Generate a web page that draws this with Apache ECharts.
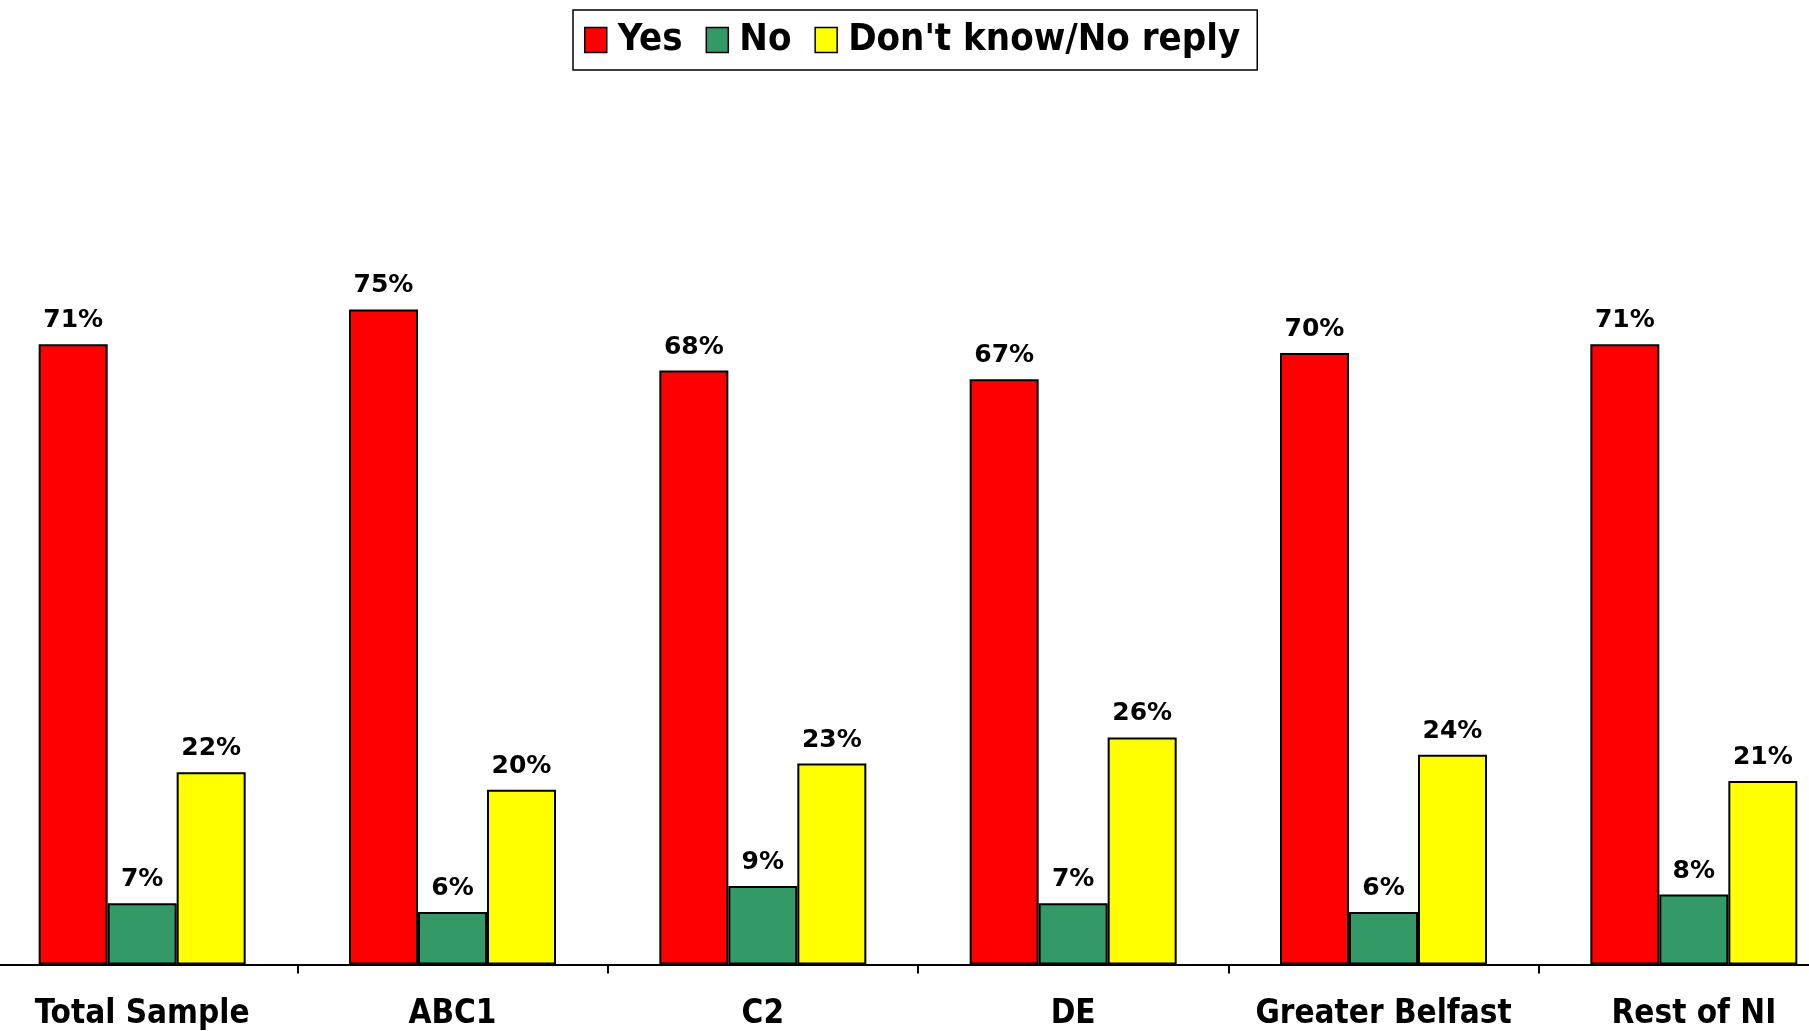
<!DOCTYPE html>
<html>
<head>
<meta charset="utf-8">
<script src="https://cdn.jsdelivr.net/npm/echarts@6/dist/echarts.min.js"></script>
<style>
html,body{margin:0;padding:0;background:#fff;overflow:hidden;width:1809px;height:1031px;position:relative;}
#main{position:absolute;left:-13px;top:0;width:1862px;height:1031px;}
</style>
</head>
<body>
<div id="main"></div>
<script>
const categories = ['Total Sample', 'ABC1', 'C2', 'DE', 'Greater Belfast', 'Rest of NI'];
const seriesNames = ['Yes', 'No', "Don't know/No reply"];
const yesValues = [71, 75, 68, 67, 70, 71];
const noValues = [7, 6, 9, 7, 6, 8];
const dkValues = [22, 20, 23, 26, 24, 21];
const colors = ['#FF0000', '#339966', '#FFFF00'];

const condensed = "'DejaVu Sans Condensed', 'DejaVu Sans', sans-serif";
const wide = "'DejaVu Sans', Verdana, sans-serif";

const chart = echarts.init(document.getElementById('main'));

function mk(name, data, color) {
  return {
    name: name,
    type: 'bar',
    data: data,
    barWidth: 69,
    barGap: '0%',
    itemStyle: { color: color, borderColor: '#000', borderWidth: 2 },
    label: {
      show: true,
      position: 'top',
      distance: 11,
      formatter: '{c}%',
      color: '#000',
      fontFamily: wide,
      fontWeight: 'bold',
      fontSize: 25
    }
  };
}

chart.setOption({
  animation: false,
  backgroundColor: '#fff',
  legend: {
    data: seriesNames,
    icon: 'rect',
    top: 10,
    left: 586,
    orient: 'horizontal',
    borderColor: '#000',
    borderWidth: 1.5,
    padding: [11, 17, 11, 11],
    itemWidth: 22,
    itemHeight: 25,
    itemGap: 23,
    textStyle: { fontFamily: condensed, fontWeight: 'bold', fontSize: 38, color: '#000', padding: [0, 0, 0, 6] },
    itemStyle: { borderColor: '#000', borderWidth: 1.5 }
  },
  grid: { left: 0, right: 0, top: 91, bottom: 66.5, containLabel: false },
  xAxis: {
    type: 'category',
    data: categories,
    axisLine: { lineStyle: { color: '#000', width: 2 } },
    axisTick: { show: true, interval: 0, length: 9, lineStyle: { color: '#000', width: 2 } },
    axisLabel: { interval: 0, fontFamily: condensed, fontWeight: 'bold', fontSize: 33, color: '#000', margin: 33 }
  },
  yAxis: {
    type: 'value',
    min: 0,
    max: 100,
    show: false,
    splitLine: { show: false }
  },
  series: [
    mk(seriesNames[0], yesValues, colors[0]),
    mk(seriesNames[1], noValues, colors[1]),
    mk(seriesNames[2], dkValues, colors[2])
  ]
});
</script>
</body>
</html>
